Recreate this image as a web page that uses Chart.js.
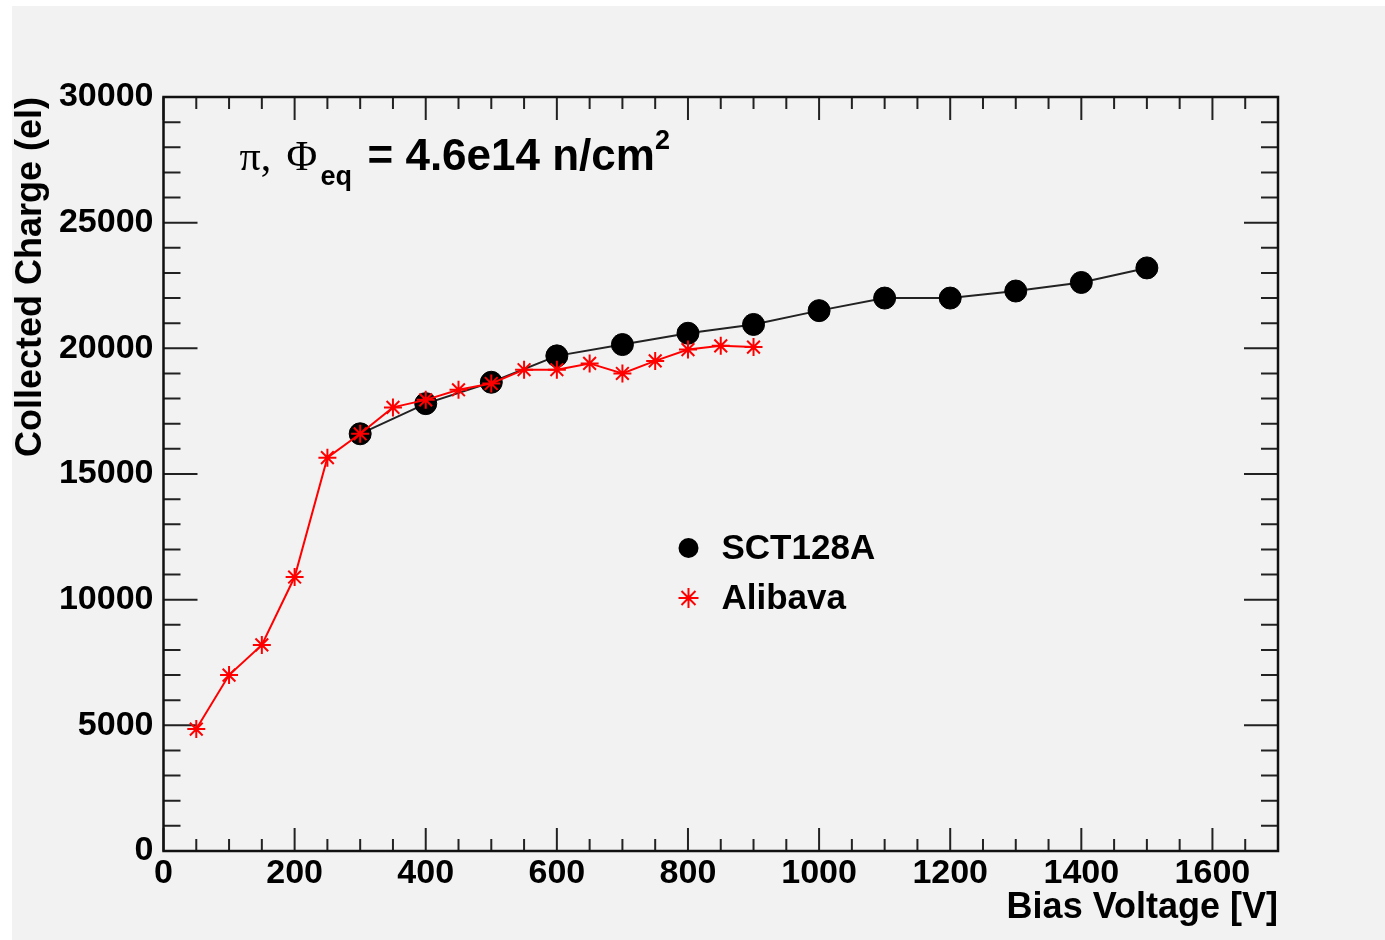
<!DOCTYPE html>
<html>
<head>
<meta charset="utf-8">
<title>Collected charge vs bias voltage</title>
<script src="https://cdn.jsdelivr.net/npm/chart.js@4.4.1/dist/chart.umd.min.js"></script>
<style>
  html, body { margin: 0; padding: 0; background: #fff; }
  #wrap { position: absolute; left: 12px; top: 6px; width: 1373px; height: 934px; background: #f2f2f2; }
</style>
</head>
<body>
<div id="wrap"><canvas id="chargeChart"></canvas></div>
<script>
// SCT128A readout
const sctVoltage = [300, 400, 500, 600, 700, 800, 900, 1000, 1100, 1200, 1300, 1400, 1500];
const sctCharge  = [16600, 17800, 18650, 19700, 20150, 20600, 20950, 21500, 22000, 22000, 22280, 22620, 23200];

// Alibava readout
const aliVoltage = [50, 100, 150, 200, 250, 300, 350, 400, 450, 500, 550, 600, 650, 700, 750, 800, 850, 900];
const aliCharge  = [4850, 7000, 8200, 10900, 15650, 16600, 17650, 17950, 18350, 18600, 19150, 19150, 19400, 19000, 19500, 19950, 20100, 20050];

const seriesLabels = ["SCT128A", "Alibava"];
const xTickValues = [0, 200, 400, 600, 800, 1000, 1200, 1400, 1600];
const yTickValues = [0, 5000, 10000, 15000, 20000, 25000, 30000];

const FONT = '"Liberation Sans", Arial, sans-serif';

function toPoints(xs, ys) {
    return xs.map((x, i) => ({ x: x, y: ys[i] }));
}

// ROOT style frame with inward ticks on all four sides
const rootFrame = {
    id: "rootFrame",
    beforeDatasetsDraw(chart) {
        const { ctx, chartArea: a, scales: { x, y } } = chart;
        ctx.save();
        ctx.strokeStyle = "#222";
        ctx.lineWidth = 2;
        ctx.beginPath();
        for (let v = x.min; v <= x.max; v += 50) {
            const px = x.getPixelForValue(v);
            const len = v % 200 === 0 ? 23 : 12;
            ctx.moveTo(px, a.bottom); ctx.lineTo(px, a.bottom - len);
            ctx.moveTo(px, a.top); ctx.lineTo(px, a.top + len);
        }
        for (let v = y.min; v <= y.max; v += 1000) {
            const py = y.getPixelForValue(v);
            const len = v % 5000 === 0 ? 34 : 17;
            ctx.moveTo(a.left, py); ctx.lineTo(a.left + len, py);
            ctx.moveTo(a.right, py); ctx.lineTo(a.right - len, py);
        }
        ctx.stroke();
        ctx.lineWidth = 2.5;
        ctx.strokeStyle = "#111";
        ctx.strokeRect(a.left, a.top, a.right - a.left, a.bottom - a.top);
        ctx.restore();
    },
    afterDraw(chart) {
        const { ctx, chartArea: a } = chart;
        const L = a.left, T = a.top;
        ctx.save();
        ctx.fillStyle = "#000";
        ctx.textBaseline = "alphabetic";

        // label text
        ctx.font = '42px "Liberation Serif", serif';
        ctx.fillText("\u03c0,", L + 76, T + 73);
        ctx.fillText("\u03a6", L + 123, T + 73);
        ctx.font = "bold 27px " + FONT;
        ctx.fillText("eq", L + 157, T + 88);
        ctx.font = "bold 44px " + FONT;
        const main = "= 4.6e14 n/cm";
        ctx.fillText(main, L + 204, T + 73);
        const w = ctx.measureText(main).width;
        ctx.font = "bold 27px " + FONT;
        ctx.fillText("2", L + 204 + w, T + 52);

        // legend
        const lx = L + 525, ly = T + 451;
        ctx.beginPath();
        ctx.arc(lx, ly, 10, 0, Math.PI * 2);
        ctx.fill();
        ctx.strokeStyle = "#ff0000";
        ctx.lineWidth = 2;
        const r = 10, sy = ly + 50;
        ctx.beginPath();
        ctx.moveTo(lx - r, sy); ctx.lineTo(lx + r, sy);
        ctx.moveTo(lx, sy - r); ctx.lineTo(lx, sy + r);
        ctx.moveTo(lx - r * 0.7, sy - r * 0.7); ctx.lineTo(lx + r * 0.7, sy + r * 0.7);
        ctx.moveTo(lx - r * 0.7, sy + r * 0.7); ctx.lineTo(lx + r * 0.7, sy - r * 0.7);
        ctx.stroke();
        ctx.font = "bold 35px " + FONT;
        ctx.textBaseline = "middle";
        ctx.fillText(seriesLabels[0], lx + 33, ly + 1);
        ctx.fillText(seriesLabels[1], lx + 33, sy + 1);
        ctx.restore();
    }
};

const ctx = document.getElementById("chargeChart").getContext("2d");
const chargeChart = new Chart(ctx, {
    type: "line",
    data: {
        datasets: [{
            label: seriesLabels[0],
            data: toPoints(sctVoltage, sctCharge),
            borderColor: "#222",
            borderWidth: 2,
            pointBackgroundColor: "#000",
            pointBorderColor: "#000",
            pointBorderWidth: 1,
            pointRadius: 11,
            pointStyle: "circle",
            tension: 0,
            fill: false,
            order: 2
        }, {
            label: seriesLabels[1],
            data: toPoints(aliVoltage, aliCharge),
            borderColor: "#ff0000",
            borderWidth: 2,
            pointBackgroundColor: "#ff0000",
            pointBorderColor: "#ff0000",
            pointBorderWidth: 2,
            pointRadius: 9,
            pointStyle: "star",
            tension: 0,
            fill: false,
            order: 1
        }]
    },
    options: {
        responsive: true,
        maintainAspectRatio: false,
        animation: false,
        layout: { padding: { top: 91, right: 107, left: 0, bottom: 0 } },
        plugins: { legend: { display: false }, tooltip: { enabled: false } },
        scales: {
            x: {
                type: "linear",
                min: 0,
                max: 1700,
                afterFit: (s) => { s.height = 89; },
                afterBuildTicks: (s) => { s.ticks = xTickValues.map(v => ({ value: v })); },
                grid: { display: false, drawTicks: false },
                border: { display: false },
                ticks: {
                    color: "#000",
                    padding: 2,
                    maxRotation: 0,
                    autoSkip: false,
                    font: { family: FONT, size: 34, weight: "bold" },
                    callback: (v) => String(v)
                },
                title: {
                    display: true,
                    text: "Bias Voltage [V]",
                    align: "end",
                    color: "#000",
                    padding: { top: 0, bottom: 10 },
                    font: { family: FONT, size: 36, weight: "bold" }
                }
            },
            y: {
                type: "linear",
                min: 0,
                max: 30000,
                afterFit: (s) => { s.width = 151.5; },
                afterBuildTicks: (s) => { s.ticks = yTickValues.map(v => ({ value: v })); },
                grid: { display: false, drawTicks: false },
                border: { display: false },
                ticks: {
                    color: "#000",
                    padding: 10,
                    autoSkip: false,
                    font: { family: FONT, size: 34, weight: "bold" },
                    callback: (v) => String(v)
                },
                title: {
                    display: true,
                    text: "Collected Charge (el)",
                    align: "end",
                    color: "#000",
                    padding: { top: 0, bottom: 0 },
                    font: { family: FONT, size: 36, weight: "bold", lineHeight: 1.05 }
                }
            }
        }
    },
    plugins: [rootFrame]
});
</script>
</body>
</html>
